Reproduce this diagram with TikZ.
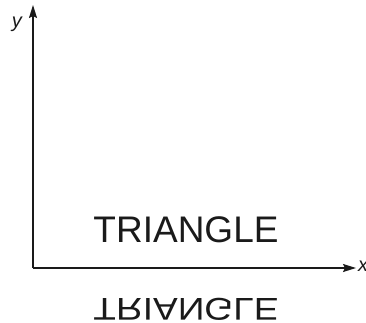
\documentclass[tikz,border=0pt]{standalone}
\usepackage{fontspec}
\setmainfont{Liberation Sans}
\definecolor{mInk}{HTML}{1A1A1A}
\usetikzlibrary{positioning,arrows.meta}

\begin{document}
\begin{tikzpicture}[x=1pt, y=1pt, axis/.style={draw=mInk, line width=1.5pt, -{Stealth[length=13pt, width=8pt, inset=2pt]}}, word/.style={inner sep=0pt, text=mInk, font=\fontsize{37}{40}\selectfont}]
\useasboundingbox (0,0) rectangle (366,322);
\coordinate (orig) at (33,54);
\coordinate (ytip) at (33,317);
\coordinate (xtip) at (356,54);
\draw[axis] (orig) -- (ytip);
\draw[axis] (orig) -- (xtip);
\node[font=\fontsize{20}{22}\selectfont\itshape, text=mInk] (ylab) at (17,298) {y};
\node[font=\fontsize{20}{22}\selectfont\itshape, text=mInk, anchor=west, inner sep=0pt] (xlab) at (358,56) {x};
\node[word] (word) at (186,92) {TRIANGLE};
\node[word, yscale=-0.85, transform shape] (mirror) at (186,13) {TRIANGLE};
\end{tikzpicture}
\end{document}
